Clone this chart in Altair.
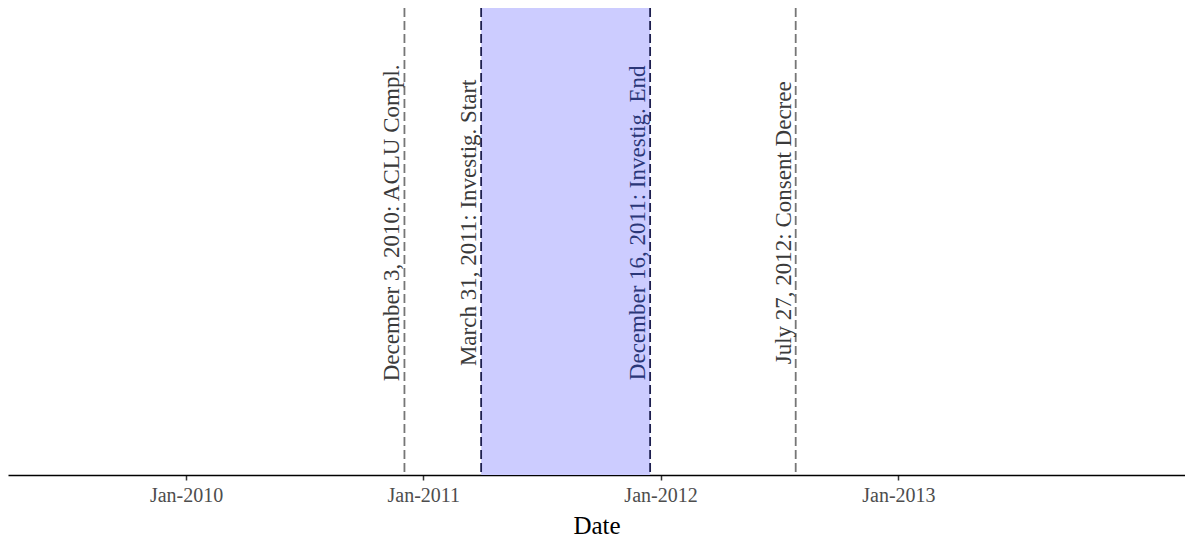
import altair as alt
import pandas as pd

# events shown as dashed vertical lines
event_dates = ["2010-12-03", "2011-03-31", "2011-12-16", "2012-07-27"]
event_labels = [
    "December 3, 2010: ACLU Compl.",
    "March 31, 2011: Investig. Start",
    "December 16, 2011: Investig. End",
    "July 27, 2012: Consent Decree",
]
line_group = ["event", "investigation", "investigation", "event"]
label_group = ["event", "event", "investigation", "event"]
label_y = [0.54, 0.54, 0.54, 0.54]

# shaded investigation period
period_start = ["2011-03-31"]
period_end = ["2011-12-16"]

tick_years = [2010, 2011, 2012, 2013]


def _events():
    return pd.DataFrame({
        "date": event_dates,
        "label": event_labels,
        "line_group": line_group,
        "label_group": label_group,
        "label_y": label_y,
    })


def _period():
    return pd.DataFrame({"start": period_start, "end": period_end, "ymin": [0], "ymax": [1]})


def _plot():
    scale_x = alt.Scale(
        type="utc",
        domain=[alt.DateTime(year=2009, month=4, date=2, utc=True),
                alt.DateTime(year=2014, month=3, date=18, utc=True)],
        nice=False,
    )
    axis_x = alt.Axis(
        title="Date",
        format="%b-%Y",
        values=[alt.DateTime(year=y, month=1, date=1, utc=True) for y in tick_years],
        grid=False,
        labelPadding=5,
        titleY=58,
        titleBaseline="alphabetic",
    )
    scale_y = alt.Scale(domain=[0, 1])

    shade = alt.Chart(_period()).mark_rect(color="#ccccff", opacity=1).encode(
        x=alt.X("start:T", axis=axis_x, scale=scale_x),
        x2="end:T",
        y=alt.Y("ymin:Q", axis=None, scale=scale_y),
        y2="ymax:Q",
    )

    lines = alt.Chart(_events()).mark_rule(strokeDash=[9, 4], strokeWidth=1.8).encode(
        x=alt.X("date:T", scale=scale_x),
        color=alt.Color("line_group:N", legend=None,
                        scale=alt.Scale(domain=["event", "investigation"], range=["#767676", "#1d1f4f"])),
    )

    labels = alt.Chart(_events()).mark_text(
        angle=270, align="center", baseline="alphabetic", dy=-5,
        font="Liberation Serif", fontSize=23,
    ).encode(
        x=alt.X("date:T", scale=scale_x),
        y=alt.Y("label_y:Q", axis=None, scale=scale_y),
        text="label:N",
        color=alt.Color("label_group:N", legend=None,
                        scale=alt.Scale(domain=["event", "investigation"], range=["#3a3a3a", "#2b3778"])),
    )

    return alt.layer(shade, lines, labels).resolve_scale(color="independent").properties(
        width=1177,
        height=467,
        autosize=alt.AutoSizeParams(type="none"),
        padding={"left": 0, "top": 0, "right": 0, "bottom": 64},
    ).configure_view(stroke=None).configure_axis(
        labelFont="Liberation Serif",
        labelFontSize=20,
        labelColor="#4d4d4d",
        titleFont="Liberation Serif",
        titleFontSize=25,
        titleFontWeight="normal",
        titleColor="#000000",
        domainColor="#000000",
        domainWidth=1.5,
        tickColor="#333333",
        tickWidth=1.5,
        tickSize=5,
    )


chart = _plot()
chart.save("out.html", embed_options={"renderer": "svg", "actions": False})
